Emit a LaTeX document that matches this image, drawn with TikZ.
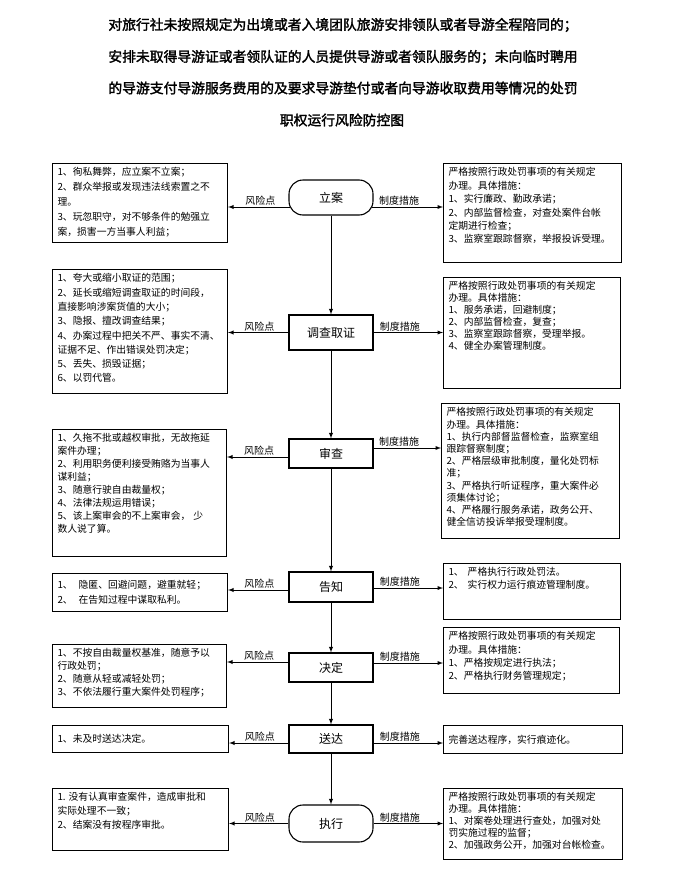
\documentclass[tikz,border=0pt]{standalone}
\usepackage{fontspec}
\setmainfont{Noto Sans CJK SC}
\newfontfamily\titlefont{Noto Sans CJK SC}[FakeBold=2]
\newcommand{\boxtext}[4]{\parbox[t][#2][t]{#1}{\fontsize{9.8pt}{#3}\selectfont #4}}
\newcommand{\boxmid}[4]{\parbox[t][#2][c]{#1}{\fontsize{9.8pt}{#3}\selectfont #4}}

\begin{document}
\begin{tikzpicture}
	[x=1pt,y=-1pt,every node/.style={inner sep=0pt}]
	\tikzstyle{stage} = [draw, line width=1.1pt, minimum width=84pt, font=\fontsize{12pt}{14pt}\selectfont];
	\tikzstyle{stageround} = [stage, rounded corners=14pt];
	\tikzstyle{panel} = [draw, line width=1.1pt, anchor=north west, inner xsep=5pt, inner ysep=4pt];
	\tikzstyle{link} = [-latex, line width=0.9pt];
	\tikzstyle{tag} = [anchor=south, inner sep=0.8pt, font=\fontsize{10pt}{12pt}\selectfont];
	\tikzstyle{heading} = [font=\titlefont\fontsize{13.8pt}{16pt}\selectfont];
	
	\useasboundingbox (0,0) rectangle (682,878);
	
	% title
	\node[heading] (t1) at (343,25) {对旅行社未按照规定为出境或者入境团队旅游安排领队或者导游全程陪同的；};
	\node[heading] (t2) at (343,57) {安排未取得导游证或者领队证的人员提供导游或者领队服务的；未向临时聘用};
	\node[heading] (t3) at (343,88) {的导游支付导游服务费用的及要求导游垫付或者向导游收取费用等情况的处罚};
	\node[heading] (t4) at (342,120) {职权运行风险防控图};
	
	% steps
	\node[stageround, minimum height=35pt] (lian) at (331,197.5) {立案};
	\node[stage, minimum height=35pt] (diaocha) at (331,332.5) {调查取证};
	\node[stage, minimum height=29pt] (shencha) at (331,453.5) {审查};
	\node[stage, minimum height=30pt] (gaozhi) at (331,587) {告知};
	\node[stage, minimum height=29pt] (jueding) at (331,667.5) {决定};
	\node[stage, minimum height=28pt] (songda) at (331,739) {送达};
	\node[stageround, minimum height=37pt] (zhixing) at (331,823.5) {执行};
	
	% risks
	\node[panel] (l1) at (52,163) {\boxtext{165pt}{71pt}{15pt}{1、徇私舞弊，应立案不立案；\\2、群众举报或发现违法线索置之不\\理。\\3、玩忽职守，对不够条件的勉强立\\案，损害一方当事人利益；}};
	\node[panel] (l2) at (52,269) {\boxtext{165pt}{116pt}{14.3pt}{1、夸大或缩小取证的范围；\\2、延长或缩短调查取证的时间段，\\直接影响涉案货值的大小；\\3、隐报、擅改调查结果；\\4、办案过程中把关不严、事实不清、\\证据不足、作出错误处罚决定；\\5、丢失、损毁证据；\\6、以罚代管。}};
	\node[panel] (l3) at (52,429) {\boxtext{164pt}{119pt}{12.9pt}{1、久拖不批或越权审批，无故拖延\\案件办理；\\2、利用职务便利接受贿赂为当事人\\谋利益；\\3、随意行驶自由裁量权；\\4、法律法规运用错误；\\5、该上案审会的不上案审会，\hspace{0.3em}少\\数人说了算。}};
	\node[panel] (l4) at (52,573) {\boxmid{165pt}{30pt}{15pt}{1、\hspace{0.6em}隐匿、回避问题，避重就轻；\\2、\hspace{0.6em}在告知过程中谋取私利。}};
	\node[panel] (l5) at (52,644) {\boxtext{164pt}{55pt}{13pt}{1、不按自由裁量权基准，随意予以\\行政处罚；\\2、随意从轻或减轻处罚；\\3、不依法履行重大案件处罚程序；}};
	\node[panel] (l6) at (52,725) {\boxmid{166pt}{19pt}{13pt}{1、未及时送达决定。}};
	\node[panel] (l7) at (52,788) {\boxtext{166pt}{54pt}{14pt}{1.\hspace{0.3em}没有认真审查案件，造成审批和\\实际处理不一致；\\2、结案没有按程序审批。}};
	
	% measures
	\node[panel] (r1) at (443,163) {\boxtext{168pt}{91pt}{13.4pt}{严格按照行政处罚事项的有关规定\\办理。具体措施：\\1、实行廉政、勤政承诺；\\2、内部监督检查，对查处案件台帐\\定期进行检查；\\3、监察室跟踪督察，举报投诉受理。}};
	\node[panel] (r2) at (443,277) {\boxtext{167pt}{103pt}{12pt}{严格按照行政处罚事项的有关规定\\办理。具体措施：\\1、服务承诺，回避制度；\\2、内部监督检查，复查；\\3、监察室跟踪督察，受理举报。\\4、健全办案管理制度。}};
	\node[panel] (r3) at (441,403) {\boxtext{168pt}{127pt}{12.2pt}{严格按照行政处罚事项的有关规定\\办理。具体措施：\\1、执行内部督监督检查，监察室组\\跟踪督察制度；\\2、严格层级审批制度，量化处罚标\\准；\\3、严格执行听证程序，重大案件必\\须集体讨论；\\4、严格履行服务承诺，政务公开、\\健全信访投诉举报受理制度。}};
	\node[panel] (r4) at (443,563) {\boxtext{167pt}{48pt}{13pt}{1、\hspace{0.4em}严格执行行政处罚法。\\2、\hspace{0.4em}实行权力运行痕迹管理制度。}};
	\node[panel] (r5) at (443,627) {\boxtext{166pt}{58pt}{13.3pt}{严格按照行政处罚事项的有关规定\\办理。具体措施：\\1、严格按规定进行执法；\\2、严格执行财务管理规定；}};
	\node[panel] (r6) at (443,725) {\boxmid{169pt}{20pt}{13pt}{完善送达程序，实行痕迹化。}};
	\node[panel] (r7) at (443,788) {\boxtext{169pt}{63pt}{12pt}{严格按照行政处罚事项的有关规定\\办理。具体措施：\\1、对案卷处理进行查处，加强对处\\罚实施过程的监督；\\2、加强政务公开，加强对台帐检查。}};
	
	% flow
	\draw[link] (lian) -- (diaocha);
	\draw[link] (diaocha) -- (shencha);
	\draw[link] (shencha) -- (gaozhi);
	\draw[link] (gaozhi) -- (jueding);
	\draw[link] (jueding) -- (songda);
	\draw[link] (songda) -- (zhixing);
	
	% side arrows
	\coordinate (a1) at ([xshift=1.5pt,yshift=-9.5pt]lian.west);
	\coordinate (b1) at ([xshift=-1.5pt,yshift=-9.5pt]lian.east);
	\coordinate (a2) at (diaocha.west);
	\coordinate (b2) at (diaocha.east);
	\coordinate (a3) at ([yshift=-3.5pt]shencha.west);
	\coordinate (b3) at ([yshift=5.5pt]shencha.east);
	\coordinate (a4) at ([yshift=-3pt]gaozhi.west);
	\coordinate (b4) at ([yshift=-1pt]gaozhi.east);
	\coordinate (a5) at ([yshift=5.5pt]jueding.west);
	\coordinate (b5) at ([yshift=4.5pt]jueding.east);
	\coordinate (a6) at ([yshift=-4pt]songda.west);
	\coordinate (b6) at ([yshift=-4pt]songda.east);
	\coordinate (a7) at (zhixing.west);
	\coordinate (b7) at (zhixing.east);
	
	\draw[link] (a1) -- node[tag,pos=.48] {风险点} (l1.east |- a1);
	\draw[link] (a2) -- node[tag,pos=.48] {风险点} (l2.east |- a2);
	\draw[link] (a3) -- node[tag,pos=.48] {风险点} (l3.east |- a3);
	\draw[link] (a4) -- node[tag,pos=.48] {风险点} (l4.east |- a4);
	\draw[link] (a5) -- node[tag,pos=.48] {风险点} (l5.east |- a5);
	\draw[link] (a6) -- node[tag,pos=.48] {风险点} (l6.east |- a6);
	\draw[link] (a7) -- node[tag,pos=.48] {风险点} (l7.east |- a7);
	
	\draw[link] (b1) -- node[tag,pos=.38] {制度措施} (r1.west |- b1);
	\draw[link] (b2) -- node[tag,pos=.38] {制度措施} (r2.west |- b2);
	\draw[link] (b3) -- node[tag,pos=.38] {制度措施} (r3.west |- b3);
	\draw[link] (b4) -- node[tag,pos=.38] {制度措施} (r4.west |- b4);
	\draw[link] (b5) -- node[tag,pos=.38] {制度措施} (r5.west |- b5);
	\draw[link] (b6) -- node[tag,pos=.38] {制度措施} (r6.west |- b6);
	\draw[link] (b7) -- node[tag,pos=.38] {制度措施} (r7.west |- b7);
\end{tikzpicture}
\end{document}
